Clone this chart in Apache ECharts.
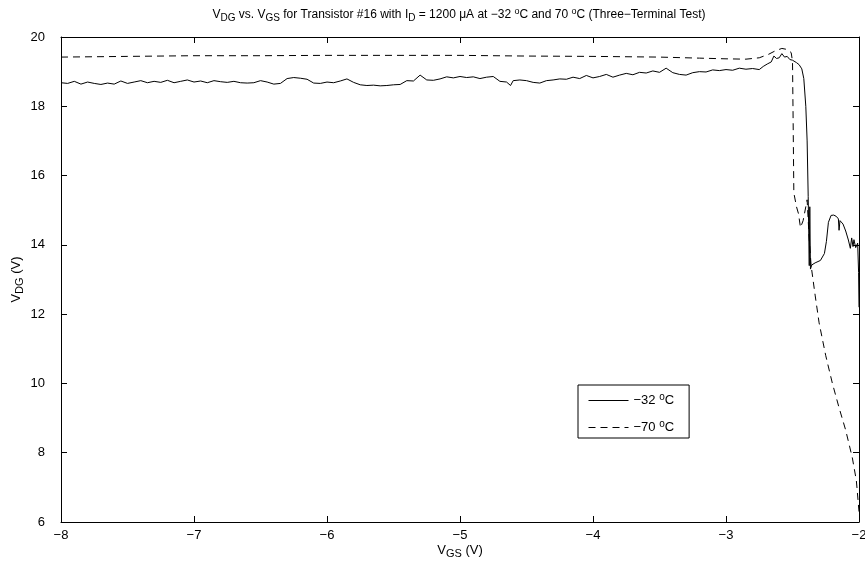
<!DOCTYPE html>
<html>
<head>
<meta charset="utf-8">
<script src="https://cdn.jsdelivr.net/npm/echarts@6/dist/echarts.min.js"></script>
<style>
  html, body { margin: 0; padding: 0; background: #fff; }
  #chart { width: 865px; height: 566px; }
</style>
</head>
<body>
<div id="chart"></div>
<script>
// V_DG against V_GS, [V_GS, V_DG] pairs in volts
const cold = [
  [-8.00,18.68],[-7.95,18.66],[-7.90,18.72],[-7.85,18.64],[-7.80,18.70],[-7.75,18.66],
  [-7.70,18.63],[-7.65,18.67],[-7.60,18.64],[-7.55,18.73],[-7.50,18.66],[-7.45,18.70],
  [-7.40,18.74],[-7.35,18.68],[-7.30,18.72],[-7.25,18.69],[-7.20,18.75],[-7.15,18.68],
  [-7.10,18.72],[-7.05,18.76],[-7.00,18.70],[-6.95,18.73],[-6.90,18.68],[-6.85,18.74],
  [-6.80,18.71],[-6.75,18.69],[-6.70,18.72],[-6.65,18.68],[-6.60,18.67],[-6.55,18.68],
  [-6.50,18.74],[-6.45,18.70],[-6.40,18.64],[-6.35,18.66],[-6.30,18.80],[-6.25,18.83],
  [-6.20,18.81],[-6.15,18.78],[-6.10,18.67],[-6.05,18.66],[-6.00,18.70],[-5.95,18.68],
  [-5.90,18.73],[-5.85,18.79],[-5.80,18.69],[-5.75,18.62],[-5.70,18.60],[-5.65,18.61],
  [-5.60,18.59],[-5.55,18.60],[-5.50,18.62],[-5.45,18.63],[-5.40,18.74],[-5.35,18.73],
  [-5.30,18.90],[-5.25,18.76],[-5.20,18.75],[-5.15,18.79],[-5.10,18.85],[-5.05,18.82],
  [-5.00,18.86],[-4.95,18.83],[-4.90,18.85],[-4.85,18.80],[-4.80,18.84],[-4.75,18.86],
  [-4.70,18.72],[-4.65,18.70],[-4.62,18.60],[-4.60,18.74],[-4.55,18.76],[-4.50,18.74],
  [-4.45,18.69],[-4.40,18.67],[-4.35,18.74],[-4.30,18.76],[-4.25,18.79],[-4.20,18.78],
  [-4.15,18.84],[-4.10,18.80],[-4.05,18.89],[-4.00,18.82],[-3.95,18.86],[-3.90,18.92],
  [-3.85,18.84],[-3.80,18.90],[-3.75,18.95],[-3.70,18.91],[-3.65,18.98],[-3.60,18.96],
  [-3.55,19.02],[-3.50,18.98],[-3.45,19.10],[-3.40,18.97],[-3.35,18.92],[-3.30,18.90],
  [-3.25,18.97],[-3.20,19.00],[-3.15,18.99],[-3.10,19.05],[-3.05,19.03],[-3.00,19.06],
  [-2.95,19.04],[-2.90,19.10],[-2.85,19.07],[-2.80,19.09],[-2.75,19.06],[-2.72,19.15],
  [-2.69,19.22],[-2.66,19.28],[-2.64,19.45],[-2.62,19.38],[-2.60,19.40],[-2.58,19.52],
  [-2.56,19.42],[-2.54,19.44],[-2.52,19.35],[-2.50,19.33],[-2.47,19.26],[-2.45,19.20],
  [-2.43,19.08],[-2.415,18.80],[-2.40,18.00],[-2.39,17.00],[-2.382,15.40],[-2.378,15.35],
  [-2.374,13.40],[-2.370,15.10],[-2.365,13.30],[-2.355,13.42],[-2.33,13.48],[-2.29,13.55],
  [-2.26,13.75],[-2.245,14.10],[-2.23,14.65],[-2.21,14.85],[-2.19,14.86],[-2.17,14.82],
  [-2.155,14.75],[-2.15,14.42],[-2.143,14.70],[-2.12,14.60],[-2.10,14.40],[-2.08,14.14],
  [-2.065,13.90],[-2.055,14.20],[-2.045,13.95],[-2.038,14.15],[-2.025,13.92],[-2.01,14.05],
  [-2.003,13.20],[-2.00,12.20]
];

const hot = [
  [-8.00,19.42],[-7.50,19.44],[-7.00,19.46],[-6.50,19.46],[-6.00,19.47],[-5.50,19.47],
  [-5.00,19.47],[-4.50,19.45],[-4.00,19.44],[-3.50,19.42],[-3.20,19.39],[-3.00,19.37],
  [-2.85,19.36],[-2.75,19.40],[-2.68,19.50],[-2.63,19.60],[-2.58,19.67],[-2.54,19.64],
  [-2.51,19.55],[-2.50,19.30],[-2.495,17.50],[-2.49,15.50],[-2.47,15.10],[-2.455,14.90],
  [-2.44,14.50],[-2.42,14.70],[-2.39,15.30],[-2.375,14.20],[-2.36,13.40],[-2.33,12.55],
  [-2.30,11.75],[-2.25,10.80],[-2.20,10.00],[-2.15,9.30],[-2.10,8.65],[-2.05,7.85],
  [-2.02,7.20],[-2.00,6.30]
];

const seriesNames = ['\u221232 \u00b0C', '\u221270 \u00b0C'];
const xTicks = { min: -8, max: -2, step: 1 };
const yTicks = { min: 6, max: 20, step: 2 };

const FONT = 'Liberation Sans, Arial, Helvetica, sans-serif';
const minus = v => String(v).replace('-', '\u2212');

// shared rich styles for sub/superscripts
const rich = (size) => ({
  n:   { fontFamily: FONT, fontWeight: 'normal', fontSize: size, color: '#000', lineHeight: size + 4 },
  sub: { fontFamily: FONT, fontWeight: 'normal', fontSize: size - 2, color: '#000', lineHeight: size - 2, padding: [Math.round(size * 0.55), 0, 0, 0], verticalAlign: 'bottom' },
  sup: { fontFamily: FONT, fontWeight: 'normal', fontSize: size - 3, color: '#000', lineHeight: size - 3, padding: [0, 0, Math.round(size * 0.5), 0], verticalAlign: 'top' }
});

const axisCommon = {
  type: 'value',
  axisLine: { show: true, onZero: false, lineStyle: { color: '#000', width: 1 } },
  axisTick: { show: true, inside: true, length: 6, lineStyle: { color: '#000' } },
  splitLine: { show: false }
};

const chart = echarts.init(document.getElementById('chart'), null, { renderer: 'canvas' });
chart.setOption({
  animation: false,
  backgroundColor: '#fff',
  color: ['#000', '#000'],
  title: {
    text: '{n|V}{sub|DG}{n| vs. V}{sub|GS}{n| for Transistor #16 with I}{sub|D}{n| = 1200 \u03bcA at \u221232 }{sup|o}{n|C and 70 }{sup|o}{n|C (Three\u2212Terminal Test)}',
    left: 454,
    textAlign: 'center',
    top: 2,
    textStyle: { fontWeight: 'normal', rich: rich(12) }
  },
  grid: { left: 61, right: 6, top: 37, bottom: 44, containLabel: false, outerBoundsMode: 'none' },
  legend: {
    orient: 'vertical',
    left: 578,
    top: 385,
    padding: [7, 15, 2, 10],
    itemGap: 10,
    itemWidth: 40,
    itemHeight: 14,
    borderColor: '#000',
    borderWidth: 1,
    borderRadius: 0,
    backgroundColor: '#fff',
    data: seriesNames,
    itemStyle: { opacity: 0 },
    lineStyle: { width: 1 },
    formatter: name => '{n|' + name.replace('\u00b0C', '}{sup|o}{n|C}'),
    textStyle: { rich: rich(13) }
  },
  xAxis: [
    Object.assign({}, axisCommon, {
      position: 'bottom',
      min: xTicks.min, max: xTicks.max, interval: xTicks.step,
      axisLabel: { color: '#000', fontFamily: FONT, fontSize: 13, margin: 7, formatter: minus },
      name: '{n|V}{sub|GS}{n| (V)}',
      nameLocation: 'middle',
      nameGap: 20,
      nameMoveOverlap: false,
      nameTextStyle: { rich: rich(13) }
    }),
    Object.assign({}, axisCommon, {
      position: 'top',
      min: xTicks.min, max: xTicks.max, interval: xTicks.step,
      axisLabel: { show: false }
    })
  ],
  yAxis: [
    Object.assign({}, axisCommon, {
      position: 'left',
      min: yTicks.min, max: yTicks.max, interval: yTicks.step,
      axisLabel: { color: '#000', fontFamily: FONT, fontSize: 13, margin: 16, formatter: minus },
      name: '{n|V}{sub|DG}{n| (V)}',
      nameLocation: 'middle',
      nameGap: 36,
      nameMoveOverlap: false,
      nameRotate: 90,
      nameTextStyle: { rich: rich(13) }
    }),
    Object.assign({}, axisCommon, {
      position: 'right',
      min: yTicks.min, max: yTicks.max, interval: yTicks.step,
      axisLabel: { show: false }
    })
  ],
  series: [
    {
      name: seriesNames[0],
      type: 'line',
      data: cold,
      showSymbol: false,
      symbol: 'none',
      itemStyle: { color: '#000' },
      lineStyle: { color: '#000', width: 1, type: 'solid' }
    },
    {
      name: seriesNames[1],
      type: 'line',
      data: hot,
      showSymbol: false,
      symbol: 'none',
      itemStyle: { color: '#000' },
      lineStyle: { color: '#000', width: 1, type: [7, 5] }
    }
  ]
});
</script>
</body>
</html>
